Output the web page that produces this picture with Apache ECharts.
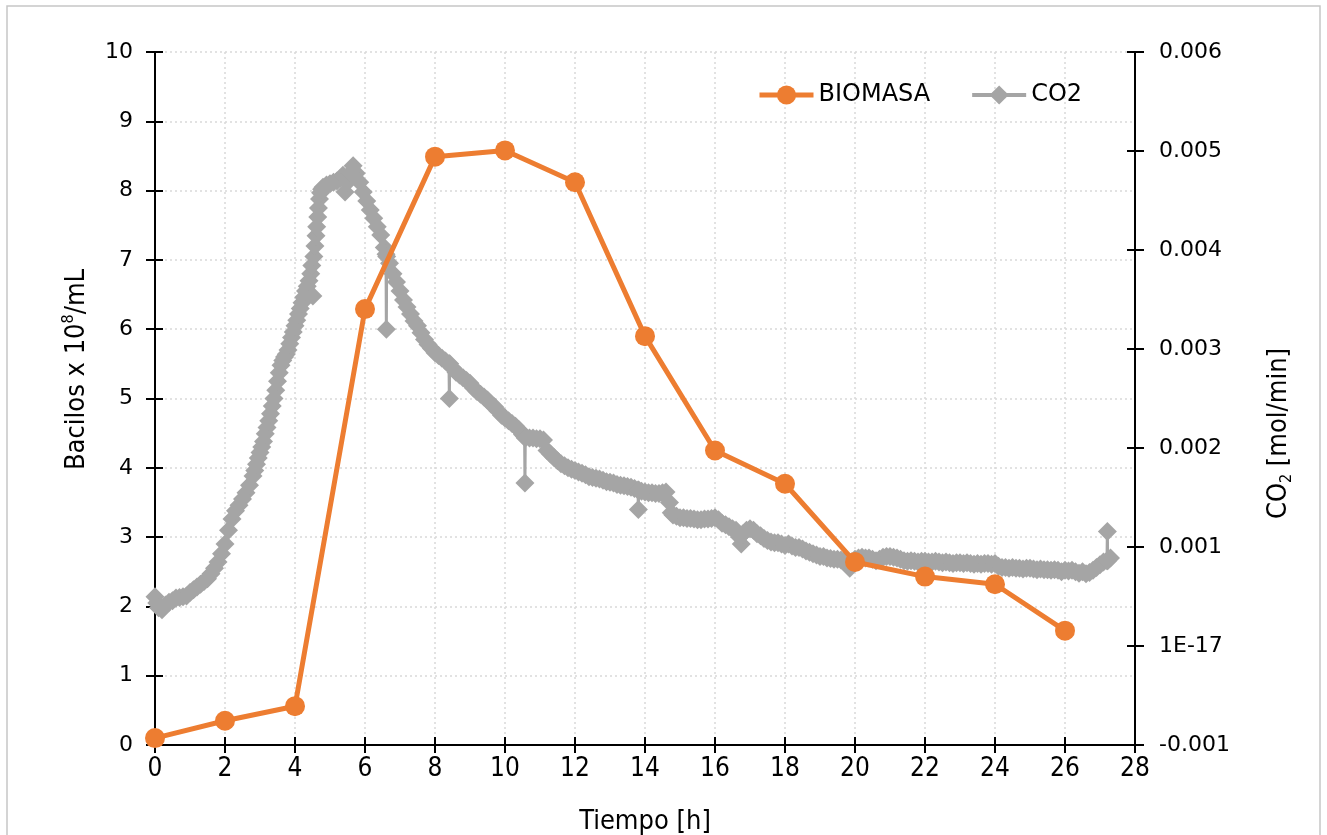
<!DOCTYPE html>
<html>
<head>
<meta charset="utf-8">
<title>Biomasa y CO2</title>
<script src="https://cdn.jsdelivr.net/npm/echarts@6.0.0/dist/echarts.min.js"></script>
<style>
  html, body { margin: 0; padding: 0; background: #ffffff; }
  #chart { width: 1327px; height: 835px; }
</style>
</head>
<body>
<div id="chart"></div>
<script>
// Biomass sampling (hours, bacilli x 10^8/mL)
const biomassHours = [0, 2, 4, 6, 8, 10, 12, 14, 16, 18, 20, 22, 24, 26];
const biomassValues = [0.10, 0.35, 0.56, 6.29, 8.49, 8.58, 8.12, 5.90, 4.25, 3.77, 2.64, 2.43, 2.32, 1.65];

// CO2 evolution rate: [hours, rate in units of 0.001 mol/min]
const co2Points = [
  [0.00,0.498],[0.05,0.435],[0.10,0.386],[0.20,0.365],[0.30,0.414],[0.40,0.442],[0.50,0.456],[0.60,0.484],
  [0.70,0.491],[0.80,0.498],[0.90,0.505],[1.00,0.540],[1.10,0.568],[1.20,0.596],[1.30,0.624],[1.40,0.652],
  [1.50,0.680],[1.60,0.729],[1.70,0.785],[1.80,0.848],[1.90,0.932],[2.00,1.030],[2.10,1.170],[2.20,1.282],
  [2.30,1.366],[2.40,1.422],[2.50,1.485],[2.60,1.548],[2.70,1.625],[2.80,1.716],[2.85,1.772],[2.90,1.835],
  [2.95,1.898],[3.00,1.954],[3.05,2.010],[3.10,2.066],[3.15,2.143],[3.20,2.206],[3.25,2.276],[3.30,2.346],
  [3.35,2.423],[3.40,2.500],[3.45,2.584],[3.50,2.675],[3.55,2.759],[3.60,2.836],[3.65,2.885],[3.70,2.920],
  [3.75,2.948],[3.80,2.990],[3.85,3.053],[3.90,3.116],[3.95,3.172],[4.00,3.235],[4.05,3.291],[4.10,3.354],
  [4.15,3.410],[4.20,3.466],[4.25,3.522],[4.30,3.585],[4.35,3.634],[4.40,3.690],[4.45,3.760],[4.48,3.844],
  [4.51,3.536],[4.54,3.935],[4.57,4.040],[4.60,4.145],[4.62,4.236],[4.65,4.334],[4.67,4.425],[4.70,4.516],
  [4.73,4.579],[4.76,4.614],[4.80,4.635],[4.90,4.656],[5.00,4.670],[5.10,4.684],[5.20,4.698],[5.30,4.726],
  [5.37,4.754],[5.43,4.586],[5.50,4.684],[5.58,4.775],[5.66,4.852],[5.75,4.775],[5.85,4.684],[5.95,4.586],
  [6.05,4.495],[6.15,4.404],[6.25,4.320],[6.35,4.236],[6.45,4.152],[6.55,4.026],[6.60,3.956],[6.61,3.200],
  [6.62,3.935],[6.70,3.865],[6.80,3.760],[6.90,3.676],[7.00,3.585],[7.10,3.494],[7.20,3.424],[7.30,3.354],
  [7.40,3.284],[7.50,3.235],[7.60,3.165],[7.70,3.095],[7.80,3.046],[7.90,3.004],[8.00,2.962],[8.10,2.934],
  [8.20,2.906],[8.30,2.878],[8.40,2.850],[8.41,2.500],[8.42,2.850],[8.50,2.808],[8.60,2.766],[8.70,2.738],
  [8.80,2.710],[8.90,2.682],[9.00,2.654],[9.10,2.605],[9.20,2.570],[9.30,2.542],[9.40,2.514],[9.50,2.486],
  [9.60,2.444],[9.70,2.416],[9.80,2.374],[9.90,2.332],[10.00,2.304],[10.10,2.276],[10.20,2.248],[10.30,2.220],
  [10.40,2.185],[10.50,2.136],[10.56,2.115],[10.57,1.646],[10.58,2.101],[10.70,2.101],[10.80,2.101],[10.90,2.094],
  [11.00,2.094],[11.10,2.080],[11.20,1.975],[11.30,1.940],[11.40,1.905],[11.50,1.870],[11.60,1.842],[11.70,1.821],
  [11.80,1.800],[11.90,1.786],[12.00,1.772],[12.10,1.758],[12.20,1.744],[12.30,1.730],[12.40,1.709],[12.50,1.702],
  [12.60,1.695],[12.70,1.688],[12.80,1.674],[12.90,1.660],[13.00,1.653],[13.10,1.646],[13.20,1.632],[13.30,1.625],
  [13.40,1.618],[13.50,1.611],[13.60,1.604],[13.70,1.590],[13.80,1.576],[13.81,1.380],[13.82,1.576],[13.90,1.562],
  [14.00,1.555],[14.10,1.548],[14.20,1.548],[14.30,1.541],[14.40,1.541],[14.50,1.548],[14.60,1.555],[14.70,1.450],
  [14.75,1.345],[14.80,1.324],[14.90,1.310],[15.00,1.296],[15.10,1.296],[15.20,1.289],[15.30,1.289],[15.40,1.282],
  [15.50,1.275],[15.60,1.275],[15.70,1.282],[15.80,1.282],[15.90,1.289],[16.00,1.296],[16.10,1.275],[16.20,1.240],
  [16.30,1.226],[16.40,1.205],[16.50,1.184],[16.60,1.170],[16.70,1.100],[16.75,1.030],[16.80,1.135],[16.90,1.170],
  [17.00,1.184],[17.10,1.170],[17.20,1.135],[17.30,1.114],[17.40,1.086],[17.50,1.065],[17.60,1.051],[17.70,1.044],
  [17.80,1.044],[17.90,1.030],[18.00,1.016],[18.10,1.030],[18.20,1.009],[18.30,0.995],[18.40,0.995],[18.50,0.981],
  [18.60,0.960],[18.70,0.946],[18.80,0.932],[18.90,0.918],[19.00,0.904],[19.10,0.904],[19.20,0.890],[19.30,0.883],
  [19.40,0.876],[19.50,0.876],[19.60,0.869],[19.70,0.862],[19.80,0.820],[19.85,0.785],[19.90,0.848],[20.00,0.876],
  [20.10,0.890],[20.20,0.897],[20.30,0.890],[20.40,0.890],[20.50,0.876],[20.60,0.862],[20.70,0.876],[20.80,0.897],
  [20.90,0.904],[21.00,0.904],[21.10,0.897],[21.20,0.890],[21.30,0.876],[21.40,0.862],[21.50,0.855],[21.60,0.862],
  [21.70,0.855],[21.80,0.848],[21.90,0.855],[22.00,0.855],[22.10,0.848],[22.20,0.848],[22.30,0.855],[22.40,0.848],
  [22.50,0.841],[22.60,0.848],[22.70,0.841],[22.80,0.834],[22.90,0.841],[23.00,0.841],[23.10,0.834],[23.20,0.841],
  [23.30,0.834],[23.40,0.827],[23.50,0.834],[23.60,0.827],[23.70,0.834],[23.80,0.834],[23.90,0.827],[24.00,0.834],
  [24.10,0.806],[24.20,0.792],[24.30,0.792],[24.40,0.785],[24.50,0.792],[24.60,0.785],[24.70,0.785],[24.80,0.778],
  [24.90,0.785],[25.00,0.785],[25.10,0.778],[25.20,0.771],[25.30,0.778],[25.40,0.771],[25.50,0.771],[25.60,0.764],
  [25.70,0.771],[25.80,0.764],[25.90,0.750],[26.00,0.764],[26.10,0.757],[26.20,0.764],[26.30,0.750],[26.40,0.736],
  [26.50,0.750],[26.60,0.729],[26.70,0.743],[26.80,0.764],[26.90,0.792],[27.00,0.820],[27.10,0.848],[27.20,0.862],
  [27.21,1.156],[27.22,0.862],[27.30,0.890]
];

// Axis tick labels
const rightTickLabels = ['-0.001', '1E-17', '0.001', '0.002', '0.003', '0.004', '0.005', '0.006'];

const seriesNames = ['BIOMASA', 'CO2'];
const ORANGE = '#ED7D31';
const GRAY = '#A5A5A5';
const NARROW = '"Liberation Sans Narrow", "DejaVu Sans Condensed", sans-serif';
const WIDE = '"DejaVu Sans", Verdana, sans-serif';

const biomassData = biomassHours.map((h, i) => [h, biomassValues[i]]);

const gridLine = { show: true, lineStyle: { color: '#d9d9d9', width: 1.5, type: [2, 3] } };
const blackLine = { show: true, onZero: false, lineStyle: { color: '#000', width: 2 } };
const hiddenLine = { show: false, onZero: false };
const tickOut = { show: true, length: 9, lineStyle: { color: '#000', width: 2 } };
const tickIn = { show: true, inside: true, length: 8, lineStyle: { color: '#000', width: 2 } };

const chart = echarts.init(document.getElementById('chart'), null, { renderer: 'canvas' });
chart.setOption({
  animation: false,
  backgroundColor: '#ffffff',
  graphic: [{
    type: 'rect',
    shape: { x: 7, y: 6, width: 1313, height: 840 },
    style: { fill: 'none', stroke: '#c6c6c6', lineWidth: 1.5 },
    silent: true
  }],
  grid: { left: 155, right: 192, top: 52, bottom: 90, containLabel: false, outerBoundsMode: 'none' },
  legend: {
    left: 752, top: 78,
    itemWidth: 54, itemHeight: 24, itemGap: 40,
    textStyle: { fontFamily: WIDE, fontSize: 24, color: '#000' },
    data: [
      { name: seriesNames[0], lineStyle: { width: 5 } },
      { name: seriesNames[1], lineStyle: { width: 4 } }
    ]
  },
  xAxis: [{
    // main time axis, ticks pointing up into the plot
    type: 'value', min: 0, max: 28, interval: 2, position: 'bottom',
    name: 'Tiempo [h]', nameLocation: 'middle', nameGap: 63,
    nameTextStyle: { fontFamily: NARROW, fontSize: 27, color: '#000' },
    axisLine: blackLine,
    axisTick: tickIn,
    axisLabel: { fontFamily: NARROW, fontSize: 26, color: '#000', margin: 11 },
    splitLine: gridLine
  }, {
    // companion axis pinned to the baseline, ticks pointing down
    type: 'value', min: 0, max: 28, interval: 2, position: 'top',
    axisLine: { show: false, onZero: true, onZeroAxisIndex: 0 },
    axisTick: tickIn,
    axisLabel: { show: false }, splitLine: { show: false }
  }],
  yAxis: [{
    type: 'value', min: 0, max: 10, interval: 1, position: 'left',
    name: 'Bacilos x 10{sup|8}/mL', nameLocation: 'middle', nameRotate: 90, nameGap: 62,
    nameTextStyle: {
      fontFamily: NARROW, fontSize: 27, color: '#000', lineHeight: 32,
      padding: [0, 0, 0, 58],
      rich: { sup: { fontFamily: NARROW, fontSize: 16, color: '#000', verticalAlign: 'top', lineHeight: 32 } }
    },
    axisLine: blackLine,
    axisTick: tickOut,
    axisLabel: { fontFamily: WIDE, fontSize: 22, color: '#000', margin: 22 },
    splitLine: gridLine
  }, {
    type: 'value', min: -1, max: 6, interval: 1, position: 'right',
    name: 'CO{sub|2} [mol/min]', nameLocation: 'middle', nameRotate: 90, nameGap: 128,
    nameTextStyle: {
      fontFamily: NARROW, fontSize: 27, color: '#000', lineHeight: 32,
      padding: [0, 70, 0, 0],
      rich: { sub: { fontFamily: NARROW, fontSize: 16, color: '#000', verticalAlign: 'bottom', lineHeight: 32 } }
    },
    axisLine: blackLine,
    axisTick: tickOut,
    axisLabel: {
      fontFamily: WIDE, fontSize: 22, color: '#000', margin: 24,
      formatter: v => rightTickLabels[Math.round(v + 1)]
    },
    splitLine: { show: false }
  }, {
    // inner ticks for the biomass scale
    type: 'value', min: 0, max: 10, interval: 1, position: 'left',
    axisLine: hiddenLine,
    axisTick: tickIn,
    axisLabel: { show: false }, splitLine: { show: false }
  }, {
    // inner ticks for the CO2 scale
    type: 'value', min: -1, max: 6, interval: 1, position: 'right',
    axisLine: hiddenLine,
    axisTick: tickIn,
    axisLabel: { show: false }, splitLine: { show: false }
  }],
  series: [{
    name: 'CO2', type: 'line', xAxisIndex: 0, yAxisIndex: 1,
    data: co2Points,
    symbol: 'diamond', symbolSize: 19, showAllSymbol: true,
    lineStyle: { color: GRAY, width: 3 },
    itemStyle: { color: GRAY },
    z: 2
  }, {
    name: 'BIOMASA', type: 'line', xAxisIndex: 0, yAxisIndex: 0,
    data: biomassData,
    symbol: 'circle', symbolSize: 20,
    lineStyle: { color: ORANGE, width: 5 },
    itemStyle: { color: ORANGE },
    z: 3
  }]
});
</script>
</body>
</html>
